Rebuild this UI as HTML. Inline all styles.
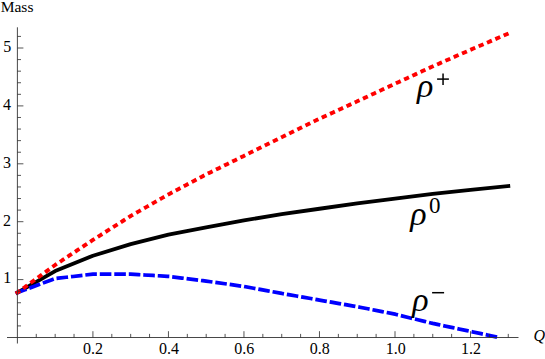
<!DOCTYPE html>
<html><head><meta charset="utf-8"><style>
html,body{margin:0;padding:0;background:#fff;}
svg{display:block;font-family:"Liberation Serif",serif;}
</style></head><body>
<svg width="545" height="359" viewBox="0 0 545 359">
<rect width="545" height="359" fill="#fff"/>
<g fill="#000" font-family="'Liberation Serif', serif" font-size="16" text-anchor="middle">
<text x="93.1" y="354.35">0.2</text>
<text x="168.9" y="354.35">0.4</text>
<text x="244.3" y="354.35">0.6</text>
<text x="319.8" y="354.35">0.8</text>
<text x="395.7" y="354.35">1.0</text>
<text x="471.1" y="354.35">1.2</text>
<text x="7.2" y="283.4">1</text>
<text x="7.1" y="225.5">2</text>
<text x="7.1" y="167.6">3</text>
<text x="7.1" y="109.7">4</text>
<text x="7.2" y="51.8">5</text>
</g>
<text x="0.7" y="11.7" font-family="'Liberation Serif', serif" font-size="15.5" fill="#000">Mass</text>
<text x="533.6" y="341.1" font-family="'Liberation Serif', serif" font-size="16" font-style="italic" fill="#000">Q</text>
<path d="M17.40 292.55 L55.16 271.09 L92.92 255.72 L130.68 244.12 L168.44 234.67 L206.20 227.30 L243.96 220.34 L281.72 214.13 L319.48 208.74 L357.24 203.35 L395.00 198.59 L432.76 193.95 L470.52 189.89 L508.28 186.00" stroke="#000" stroke-width="3.85" fill="none" stroke-linejoin="round" stroke-linecap="square"/>
<path d="M17.40 292.55 L55.16 278.57 L92.92 274.11 L130.68 274.16 L168.44 276.37 L206.20 281.12 L243.96 286.46 L281.72 293.42 L319.48 300.09 L357.24 306.70 L395.00 314.18 L432.76 323.41 L470.52 331.41 L498.84 337.50" stroke="#0000ff" stroke-width="3.7" stroke-dasharray="7.9 6.6" stroke-linecap="square" fill="none"/>
<path d="M17.40 292.55 L55.16 265.00 L92.92 239.94 L130.68 215.99 L168.44 194.41 L206.20 174.40 L243.96 155.84 L281.72 137.28 L319.48 118.72 L357.24 101.32 L395.00 83.75 L432.76 66.35 L470.52 49.82 L508.28 33.58" stroke="#ff0000" stroke-width="3.9" stroke-dasharray="1.4 7.67" stroke-linecap="square" fill="none"/>
<g stroke="#333" stroke-width="0.9" fill="none">
<line x1="7" y1="337.50" x2="518.5" y2="337.50"/>
<line x1="17.40" y1="27.3" x2="17.40" y2="343.5"/>
</g>
<g stroke="#2a2a2a" stroke-width="0.8" fill="none">
<line x1="36.28" y1="337.50" x2="36.28" y2="333.90"/>
<line x1="55.16" y1="337.50" x2="55.16" y2="333.90"/>
<line x1="74.04" y1="337.50" x2="74.04" y2="333.90"/>
<line x1="92.92" y1="337.50" x2="92.92" y2="331.20"/>
<line x1="111.80" y1="337.50" x2="111.80" y2="333.90"/>
<line x1="130.68" y1="337.50" x2="130.68" y2="333.90"/>
<line x1="149.56" y1="337.50" x2="149.56" y2="333.90"/>
<line x1="168.44" y1="337.50" x2="168.44" y2="331.20"/>
<line x1="187.32" y1="337.50" x2="187.32" y2="333.90"/>
<line x1="206.20" y1="337.50" x2="206.20" y2="333.90"/>
<line x1="225.08" y1="337.50" x2="225.08" y2="333.90"/>
<line x1="243.96" y1="337.50" x2="243.96" y2="331.20"/>
<line x1="262.84" y1="337.50" x2="262.84" y2="333.90"/>
<line x1="281.72" y1="337.50" x2="281.72" y2="333.90"/>
<line x1="300.60" y1="337.50" x2="300.60" y2="333.90"/>
<line x1="319.48" y1="337.50" x2="319.48" y2="331.20"/>
<line x1="338.36" y1="337.50" x2="338.36" y2="333.90"/>
<line x1="357.24" y1="337.50" x2="357.24" y2="333.90"/>
<line x1="376.12" y1="337.50" x2="376.12" y2="333.90"/>
<line x1="395.00" y1="337.50" x2="395.00" y2="331.20"/>
<line x1="413.88" y1="337.50" x2="413.88" y2="333.90"/>
<line x1="432.76" y1="337.50" x2="432.76" y2="333.90"/>
<line x1="451.64" y1="337.50" x2="451.64" y2="333.90"/>
<line x1="470.52" y1="337.50" x2="470.52" y2="331.20"/>
<line x1="489.40" y1="337.50" x2="489.40" y2="333.90"/>
<line x1="508.28" y1="337.50" x2="508.28" y2="333.90"/>
<line x1="17.40" y1="325.92" x2="21.00" y2="325.92"/>
<line x1="17.40" y1="314.34" x2="21.00" y2="314.34"/>
<line x1="17.40" y1="302.76" x2="21.00" y2="302.76"/>
<line x1="17.40" y1="291.18" x2="21.00" y2="291.18"/>
<line x1="17.40" y1="279.60" x2="23.40" y2="279.60"/>
<line x1="17.40" y1="268.02" x2="21.00" y2="268.02"/>
<line x1="17.40" y1="256.44" x2="21.00" y2="256.44"/>
<line x1="17.40" y1="244.86" x2="21.00" y2="244.86"/>
<line x1="17.40" y1="233.28" x2="21.00" y2="233.28"/>
<line x1="17.40" y1="221.70" x2="23.40" y2="221.70"/>
<line x1="17.40" y1="210.12" x2="21.00" y2="210.12"/>
<line x1="17.40" y1="198.54" x2="21.00" y2="198.54"/>
<line x1="17.40" y1="186.96" x2="21.00" y2="186.96"/>
<line x1="17.40" y1="175.38" x2="21.00" y2="175.38"/>
<line x1="17.40" y1="163.80" x2="23.40" y2="163.80"/>
<line x1="17.40" y1="152.22" x2="21.00" y2="152.22"/>
<line x1="17.40" y1="140.64" x2="21.00" y2="140.64"/>
<line x1="17.40" y1="129.06" x2="21.00" y2="129.06"/>
<line x1="17.40" y1="117.48" x2="21.00" y2="117.48"/>
<line x1="17.40" y1="105.90" x2="23.40" y2="105.90"/>
<line x1="17.40" y1="94.32" x2="21.00" y2="94.32"/>
<line x1="17.40" y1="82.74" x2="21.00" y2="82.74"/>
<line x1="17.40" y1="71.16" x2="21.00" y2="71.16"/>
<line x1="17.40" y1="59.58" x2="21.00" y2="59.58"/>
<line x1="17.40" y1="48.00" x2="23.40" y2="48.00"/>
<line x1="17.40" y1="36.42" x2="21.00" y2="36.42"/>
</g>
<text x="417" y="97" font-family="'Liberation Serif', serif" font-size="34" font-style="italic" fill="#000">ρ</text>
<text x="410.3" y="224.8" font-family="'Liberation Serif', serif" font-size="34" font-style="italic" fill="#000">ρ</text>
<text x="412.2" y="310.65" font-family="'Liberation Serif', serif" font-size="34" font-style="italic" fill="#000">ρ</text>
<g stroke="#000" stroke-width="1.5" fill="none">
<line x1="437.1" y1="79.1" x2="448.9" y2="79.1"/>
<line x1="443.05" y1="73.4" x2="443.05" y2="84.9"/>
<line x1="432.1" y1="292.7" x2="444.1" y2="292.7"/>
</g>
<text x="428.9" y="213" font-family="'Liberation Serif', serif" font-size="23" fill="#000">0</text>
</svg>
</body></html>
